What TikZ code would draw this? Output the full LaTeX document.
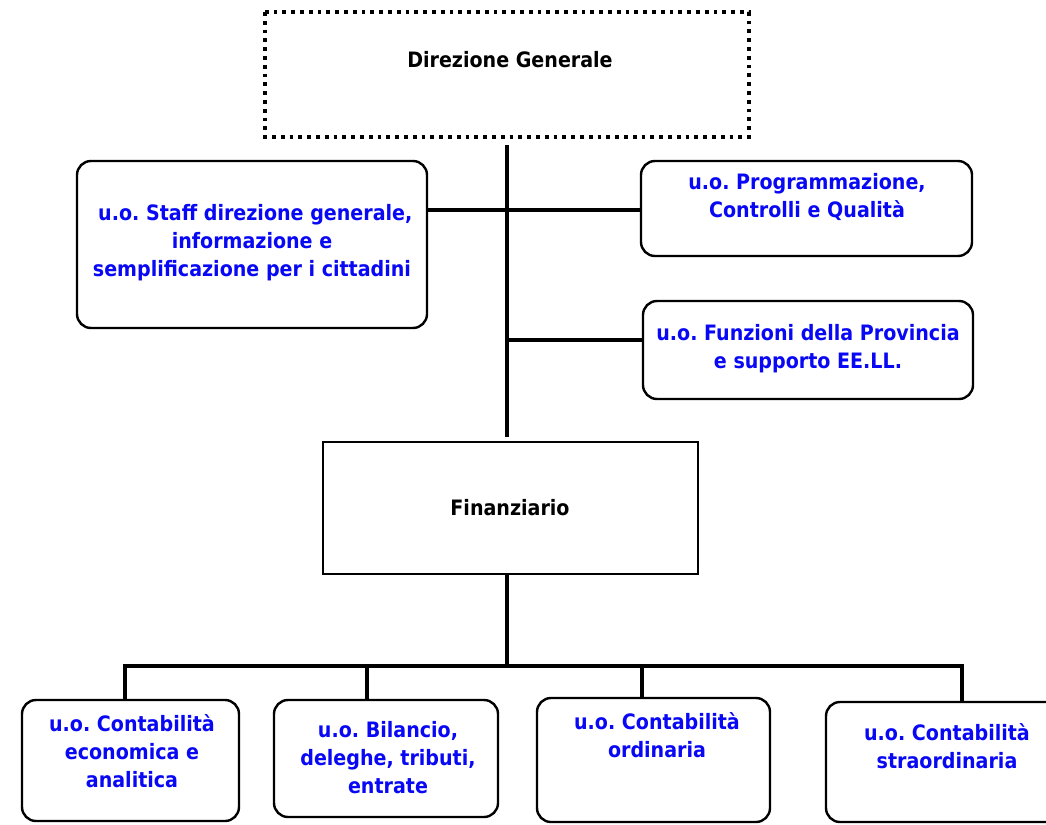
\documentclass[tikz,border=0pt]{standalone}
\usepackage{fontspec}
\newfontfamily\orgfont{DejaVu Sans Condensed}
\definecolor{unitblue}{RGB}{8,8,245}
\begin{document}
\frenchspacing
\begin{tikzpicture}[x=1pt,y=-1pt,
  conn/.style={line width=3.5pt},
  unitbox/.style={draw, line width=2.4pt, rounded corners=14pt, fill=white},
  plainbox/.style={draw, line width=2.4pt, fill=white},
  boxtxt/.style={font=\orgfont\bfseries\fontsize{21.2}{28}\selectfont, align=center, inner sep=0pt},
  unittxt/.style={boxtxt, text=unitblue}]
\useasboundingbox (0,0) rectangle (1046,824);
\clip (0,0) rectangle (1046,824);

% structure boxes
\draw[line width=3.8pt, dash pattern=on 3.8pt off 5pt] (265,12) rectangle (749,137);
\node[boxtxt] (dgtxt) at (510,60) {Direzione Generale};

\draw[plainbox] (323,442) rectangle (698,574);
\node[boxtxt] (fintxt) at (510,508) {Finanziario};

% staff units
\draw[unitbox] (77,161) rectangle (427,328);
\node[unittxt] (stafftxt) at (252,243) {\ u.o. Staff direzione generale,\\informazione e\\semplificazione per i cittadini};

\draw[unitbox] (641,161) rectangle (972,256);
\node[unittxt] (progtxt) at (807,197) {u.o. Programmazione,\\Controlli e Qualità};

\draw[unitbox] (643,301) rectangle (973,399);
\node[unittxt] (funztxt) at (808,349) {u.o. Funzioni della Provincia\\e supporto EE.LL.};

% operating units
\draw[unitbox] (22,700) rectangle (239,821);
\node[unittxt] (b1txt) at (132,751) {u.o. Contabilità\\economica e\\analitica};

\draw[unitbox] (274,700) rectangle (498,817);
\node[unittxt] (b2txt) at (388,758) {u.o. Bilancio,\\deleghe, tributi,\\entrate};

\draw[unitbox] (537,698) rectangle (770,822);
\node[unittxt] (b3txt) at (657,735) {u.o. Contabilità\\ordinaria};

\draw[unitbox] (826,702) rectangle (1060,822);
\node[unittxt] (b4txt) at (947,746) {u.o. Contabilità\\straordinaria};

% connector points
\coordinate (dgout) at (507,145);
\coordinate (finin) at (507,437);
\coordinate (staffout) at (427,210);
\coordinate (progin) at (641,210);
\coordinate (funzj) at (507,340);
\coordinate (funzin) at (643,340);
\coordinate (finout) at (507,574);
\coordinate (busj) at (507,666);
\coordinate (busl) at (125,666);
\coordinate (busr) at (962,666);
\coordinate (b1in) at (125,700);
\coordinate (b2j) at (367,666);
\coordinate (b2in) at (367,700);
\coordinate (b3j) at (642,666);
\coordinate (b3in) at (642,698);
\coordinate (b4in) at (962,702);

\draw[conn] (dgout) -- (finin);
\draw[conn] (staffout) -- (progin);
\draw[conn] (funzj) -- (funzin);
\draw[conn] (finout) -- (busj);
\draw[conn] (b1in) -- (busl) -- (busr) -- (b4in);
\draw[conn] (b2j) -- (b2in);
\draw[conn] (b3j) -- (b3in);
\end{tikzpicture}
\end{document}
